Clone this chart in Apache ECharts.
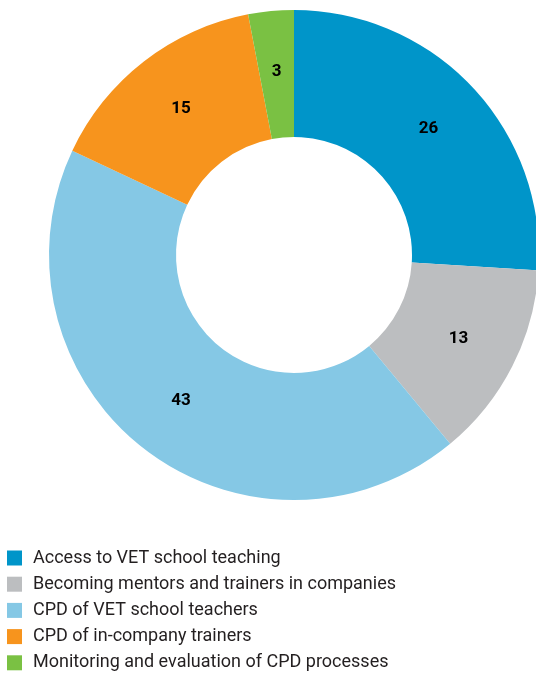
<!DOCTYPE html>
<html><head><meta charset="utf-8">
<script src="https://cdn.jsdelivr.net/npm/echarts@6/dist/echarts.min.js"></script>
<style>html,body{margin:0;padding:0;background:#fff}#c{width:536px;height:678px}</style>
</head><body><div id="c"></div>
<script>
const categories = ["Access to VET school teaching","Becoming mentors and trainers in companies","CPD of VET school teachers","CPD of in-company trainers","Monitoring and evaluation of CPD processes"];
const values = [26, 13, 43, 15, 3];
const colors = ["#0095c9", "#bcbec0", "#85c8e5", "#f7941d", "#7ac143"];
const FONT = "'Roboto', sans-serif";
const chart = echarts.init(document.getElementById('c'));
chart.setOption({
  animation: false,
  color: colors,
  legend: {
    orient: 'vertical', left: 7, top: 549, padding: 0,
    itemWidth: 15, itemHeight: 15, itemGap: 8.2,
    icon: 'rect',
    textStyle: {fontFamily: FONT, fontSize: 18, color: '#231f20', padding: [0,0,0,6]},
    data: categories
  },
  series: [{
    type: 'pie', center: [294, 255], radius: [118, 245],
    startAngle: 90, clockwise: true,
    label: {show: true, position: 'inside', formatter: '{c}', fontFamily: FONT, fontWeight: 'bold', fontSize: 17, color: '#000'},
    labelLine: {show: false},
    itemStyle: {borderWidth: 0},
    emphasis: {disabled: true},
    data: categories.map((n, i) => ({name: n, value: values[i]}))
  }]
});
</script></body></html>
